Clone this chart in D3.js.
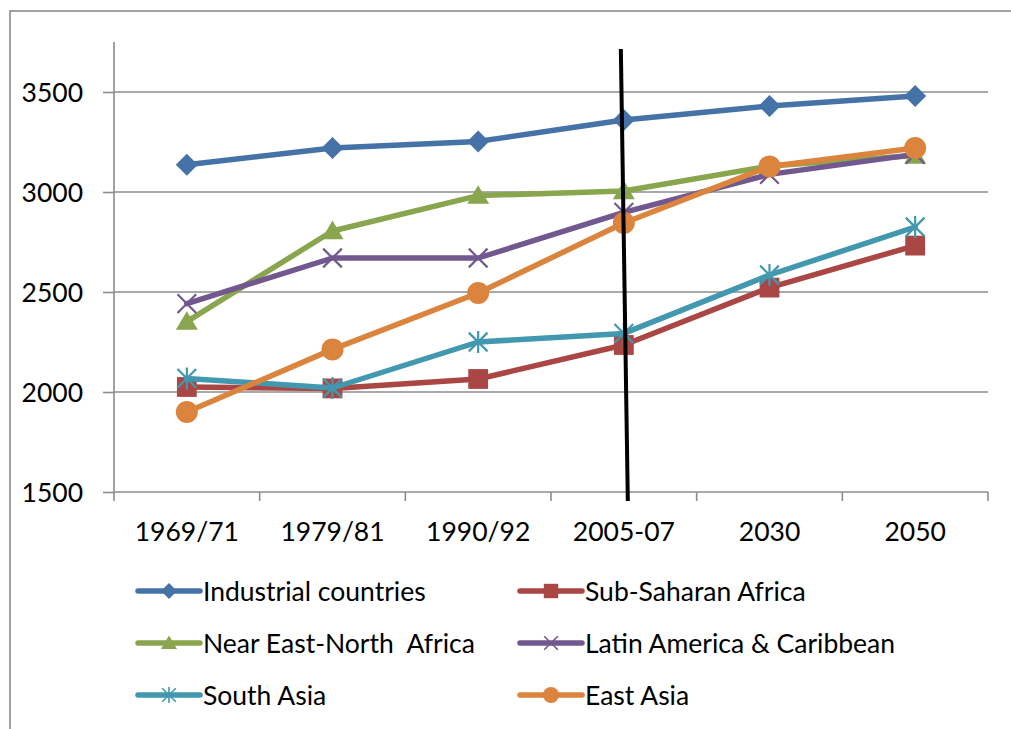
<!DOCTYPE html>
<html><head><meta charset="utf-8">
<script src="https://cdn.jsdelivr.net/npm/d3@7"></script>
<style>
html,body{margin:0;padding:0;background:#fff;overflow:hidden}
svg{display:block}
text{font-family:Lato,"Open Sans",sans-serif;fill:#000}
</style></head>
<body><svg id="c" width="1011" height="729"></svg>
<script>
const categories = ["1969/71","1979/81","1990/92","2005-07","2030","2050"];
const industrial = [3136, 3220, 3253, 3360, 3430, 3480];
const subSaharan = [2025, 2018, 2065, 2235, 2522, 2732];
const nearEast   = [2352, 2805, 2982, 3005, 3130, 3182];
const latinAm    = [2442, 2670, 2670, 2898, 3088, 3188];
const southAsia  = [2068, 2020, 2250, 2293, 2585, 2825];
const eastAsia   = [1900, 2213, 2495, 2845, 3128, 3220];
const seriesNames = ["Industrial countries","Sub-Saharan Africa","Near East-North  Africa","Latin America & Caribbean","South Asia","East Asia"];
const yTicks = [1500, 2000, 2500, 3000, 3500];
const dividerCategory = "2005-07";

const seriesValues = [industrial, subSaharan, nearEast, latinAm, southAsia, eastAsia];
const colors = ["#4572A7","#AA4643","#89A54E","#71588F","#4198AF","#DB843D"];
const markers = ["diamond","square","triangle","x","star","circle"];
const FS = 26.5;

const svg = d3.select("#c");
const L = 114, R = 988, T = 42, B = 492;
const x = d3.scaleBand().domain(categories).range([L, R]);
const y = d3.scaleLinear().domain([1500, 3750]).range([B, T]);
const cx = c => x(c) + x.bandwidth()/2;

// outer frame (only left/top visible)
svg.append("rect").attr("x",10).attr("y",11).attr("width",1030).attr("height",740)
  .attr("fill","none").attr("stroke","#8c8c8c").attr("stroke-width",1.6);

// gridlines
svg.append("g").selectAll("line").data(yTicks.slice(1)).join("line")
  .attr("x1",L).attr("x2",R).attr("y1",d=>y(d)).attr("y2",d=>y(d))
  .attr("stroke","#8c8c8c").attr("stroke-width",1.6);

// y axis
const yAxis = svg.append("g").attr("transform",`translate(${L},0)`)
  .call(d3.axisLeft(y).tickValues(yTicks).tickFormat(d3.format("d")).tickSize(11).tickPadding(20).tickSizeOuter(0));
yAxis.select(".domain").attr("d",`M0,${T}V${B}`).attr("stroke","#8c8c8c").attr("stroke-width",1.6);
yAxis.selectAll(".tick line").attr("stroke","#8c8c8c").attr("stroke-width",1.6);
yAxis.selectAll(".tick text").attr("font-size",FS).attr("font-family","Lato").attr("dy","0.36em").attr("fill","#000");

// x axis
const xAxis = svg.append("g").attr("transform",`translate(0,${B})`)
  .call(d3.axisBottom(x).tickSize(0).tickPadding(30));
xAxis.select(".domain").attr("d",`M${L},0H${R}`).attr("stroke","#8c8c8c").attr("stroke-width",1.6);
xAxis.selectAll(".tick text").attr("font-size",FS).attr("font-family","Lato").attr("fill","#000");
const bounds = categories.map(c => x(c)).concat([x(categories[categories.length-1]) + x.bandwidth()]);
svg.append("g").selectAll("line").data(bounds).join("line")
  .attr("x1",d=>d).attr("x2",d=>d).attr("y1",B).attr("y2",B+9)
  .attr("stroke","#8c8c8c").attr("stroke-width",1.6);

function marker(g, type, color, s) {
  if (type === "diamond") {
    g.append("path").attr("d",`M0,${-s}L${s},0L0,${s}L${-s},0Z`).attr("fill",color);
  } else if (type === "square") {
    g.append("rect").attr("x",-s*0.9).attr("y",-s*0.9).attr("width",s*1.8).attr("height",s*1.8).attr("fill",color);
  } else if (type === "triangle") {
    g.append("path").attr("d",`M0,${-s*0.95}L${s},${s*0.75}L${-s},${s*0.75}Z`).attr("fill",color);
  } else if (type === "x") {
    const a = s*0.85;
    g.append("path").attr("d",`M${-a},${-a}L${a},${a}M${-a},${a}L${a},${-a}`).attr("stroke",color).attr("stroke-width",Math.max(1.6,s*0.2)).attr("fill","none");
  } else if (type === "star") {
    const a = s*0.85;
    g.append("path").attr("d",`M${-a},${-a}L${a},${a}M${-a},${a}L${a},${-a}M0,${-s}V${s}`).attr("stroke",color).attr("stroke-width",Math.max(1.6,s*0.2)).attr("fill","none");
  } else if (type === "circle") {
    g.append("circle").attr("r",s).attr("fill",color);
  }
}

const line = d3.line().x((d,i)=>cx(categories[i])).y(d=>y(d));
seriesValues.forEach((vals, si) => {
  const g = svg.append("g");
  g.append("path").attr("d", line(vals)).attr("fill","none").attr("stroke",colors[si])
    .attr("stroke-width",5.5).attr("stroke-linejoin","round").attr("stroke-linecap","round");
  vals.forEach((v,i) => {
    const mg = g.append("g").attr("transform",`translate(${cx(categories[i])},${y(v)})`);
    marker(mg, markers[si], colors[si], 11);
  });
});

// divider line
const dx = cx(dividerCategory);
svg.append("line").attr("x1",dx-3).attr("y1",y(3715)).attr("x2",dx+4).attr("y2",y(1455))
  .attr("stroke","#000").attr("stroke-width",4);

// legend
const legendCols = [138, 520];
const legendRows = [591, 643, 695];
seriesNames.forEach((name, i) => {
  const lx = legendCols[i % 2], ly = legendRows[Math.floor(i/2)];
  const g = svg.append("g").attr("transform",`translate(${lx},${ly})`);
  g.append("line").attr("x1",0).attr("x2",62).attr("y1",0).attr("y2",0)
    .attr("stroke",colors[i]).attr("stroke-width",5.5).attr("stroke-linecap","round");
  const mg = g.append("g").attr("transform","translate(31,0)");
  marker(mg, markers[i], colors[i], 8);
  g.append("text").attr("x",65).attr("y",0).attr("dy","0.36em").attr("font-size",FS)
    .attr("xml:space","preserve").style("white-space","pre").text(name);
});
</script></body></html>
